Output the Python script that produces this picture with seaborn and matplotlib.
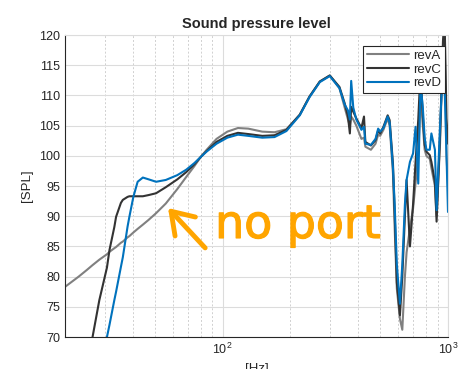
import numpy as np
import pandas as pd
import matplotlib
matplotlib.use("Agg")
import matplotlib.pyplot as plt
import matplotlib.patheffects as pe
import seaborn as sns
from matplotlib.ticker import LogLocator, NullFormatter, FixedLocator

# ---- data ----
freq = [20, 23, 25, 26.5, 28.4, 30.7, 31.5, 33.1, 33.7, 35.4, 36.1, 37.9, 38.6, 40.2,
        42, 44.3, 47, 50.7, 56, 63, 69, 75, 80, 85, 94, 105, 117, 130, 150, 170, 192,
        220, 243, 270, 299, 330, 348, 360, 367, 372, 380, 392, 413, 424, 430, 455, 477,
        490, 500, 517, 540, 551, 570, 580, 593, 612, 627, 644, 655, 678, 700, 718, 738,
        755, 773, 788, 802, 830, 844, 875, 890, 922, 950, 965, 985, 1000]

rev_a = [78.3, 80.0, 81.1, 81.9, 82.8, 83.7, 84.1, 84.7, 84.9, 85.6, 85.8, 86.5, 86.7, 87.3,
         87.9, 88.6, 89.4, 90.5, 92.1, 94.5, 96.5, 98.3, 99.8, 101.0, 102.8, 104.0, 104.6,
         104.5, 104.0, 103.9, 104.4, 106.8, 109.8, 112.3, 113.3, 111.2, 108.0, 106.0, 105.0,
         106.5, 106.0, 105.0, 102.8, 103.0, 101.5, 101.0, 102.0, 103.5, 103.3, 104.3, 106.2,
         105.0, 97.0, 88.0, 78.0, 73.0, 71.2, 80.0, 84.0, 88.0, 91.3, 95.5, 100.0, 110.0,
         105.0, 101.0, 100.0, 99.5, 98.0, 95.0, 90.0, 102.0, 118.0, 120.5, 100.0, 95.0]

rev_c = [50.0, 60.0, 65.5, 70.0, 76.1, 81.5, 84.4, 88.2, 89.9, 92.2, 92.7, 93.2, 93.3, 93.3,
         93.3, 93.3, 93.5, 93.8, 94.8, 96.1, 97.3, 98.6, 99.8, 100.8, 102.3, 103.3, 103.8,
         103.6, 103.3, 103.4, 104.3, 106.8, 109.8, 112.3, 113.3, 111.4, 108.7, 106.5, 103.7,
         108.1, 107.3, 106.2, 104.6, 106.5, 102.3, 101.7, 102.6, 104.2, 103.7, 104.8, 106.7,
         105.9, 98.7, 90.5, 79.0, 73.6, 80.0, 90.0, 96.0, 85.0, 92.0, 99.0, 106.0, 114.0,
         106.8, 101.8, 100.7, 100.1, 99.0, 95.7, 89.1, 103.4, 119.0, 123.0, 106.2, 102.0]

rev_d = [35.0, 45.0, 52.0, 57.0, 63.0, 70.0, 72.0, 76.1, 77.5, 81.6, 83.2, 88.3, 89.9, 93.2,
         95.7, 96.4, 96.1, 95.7, 96.0, 96.8, 97.7, 98.8, 99.8, 100.7, 102.0, 103.0, 103.5,
         103.3, 103.0, 103.1, 104.1, 106.7, 109.7, 112.2, 113.2, 111.2, 108.5, 107.5, 106.0,
         112.4, 108.0, 106.0, 104.3, 104.8, 102.0, 101.8, 102.8, 104.5, 104.0, 104.6, 106.5,
         105.5, 98.0, 92.0, 82.0, 75.5, 82.0, 92.0, 96.0, 99.0, 100.4, 104.8, 95.4, 112.0,
         108.0, 103.0, 101.0, 101.0, 103.7, 101.0, 91.0, 105.0, 115.0, 112.0, 100.0, 90.7]

series_names = ["revA", "revC", "revD"]
series_colors = {"revA": "#808080", "revC": "#333333", "revD": "#0072BD"}

df = pd.concat([
    pd.DataFrame({"Hz": freq, "SPL": vals, "rev": name})
    for name, vals in zip(series_names, [rev_a, rev_c, rev_d])
], ignore_index=True)

# ---- figure ----
sns.set_style("white")
plt.rcParams["font.family"] = ["Liberation Sans", "DejaVu Sans"]
txt = "#262626"

fig = plt.figure(figsize=(4.72, 3.69), dpi=100)
ax = fig.add_axes([65 / 472, 32 / 369, 383 / 472, 302 / 369])

sns.lineplot(data=df, x="Hz", y="SPL", hue="rev", palette=series_colors,
             hue_order=series_names, estimator=None, sort=False, lw=1.5, ax=ax)

ax.set_xscale("log")
ax.set_xlim(20, 1000)
ax.set_ylim(70, 120)
ax.set_yticks(np.arange(70, 121, 5))
ax.xaxis.set_major_locator(FixedLocator([100, 1000]))
ax.xaxis.set_minor_locator(LogLocator(base=10, subs=np.arange(2, 10)))
ax.xaxis.set_minor_formatter(NullFormatter())

# grid like matlab
ax.grid(True, which="major", color="#dcdcdc", lw=0.8, ls="-")
ax.grid(True, which="minor", axis="x", color="#d0d0d0", lw=0.7, ls=(0, (2, 2)))
ax.set_axisbelow(True)

for s in ["left", "bottom"]:
    ax.spines[s].set_color("#262626")
    ax.spines[s].set_linewidth(0.8)
for s in ["top", "right"]:
    ax.spines[s].set_color("#dcdcdc")
    ax.spines[s].set_linewidth(0.8)

ax.tick_params(axis="both", which="both", direction="in", colors=txt, labelsize=9)
ax.tick_params(axis="both", which="major", length=3)
ax.tick_params(axis="x", which="minor", length=2)
ax.tick_params(top=False, right=False)

ax.set_title("Sound pressure level", fontsize=10.5, fontweight="bold", color=txt, pad=5)
ax.set_xlabel("[Hz]", fontsize=9.5, color=txt)
ax.set_ylabel("[SPL]", fontsize=9.5, color=txt)
ax.xaxis.set_label_coords(0.5, -0.086)
ax.yaxis.set_label_coords(-0.084, 0.5)

leg = ax.legend(loc="upper right", bbox_to_anchor=(0.992, 0.964), borderaxespad=0,
                fontsize=9.5, handlelength=3.2, handletextpad=0.3, labelspacing=0.1,
                borderpad=0.3, fancybox=False, framealpha=1, edgecolor="#262626")
leg.get_frame().set_linewidth(0.8)
for t in leg.get_texts():
    t.set_color(txt)
for h in leg.get_lines():
    h.set_linewidth(1.5)

# hand-written note
orange = "#FFA500"
ax.text(0.392, 0.328, "no port", transform=ax.transAxes, ha="left", va="baseline",
        fontsize=33, color=orange, family="DejaVu Sans",
        path_effects=[pe.withStroke(linewidth=0.9, foreground=orange)])
ax.annotate("", xy=(0.269, 0.427), xytext=(0.366, 0.295),
            xycoords="axes fraction", textcoords="axes fraction",
            arrowprops=dict(arrowstyle="->,head_length=0.6,head_width=0.4",
                            lw=3.5, color=orange, mutation_scale=25,
                            shrinkA=0, shrinkB=0, capstyle="round"))

fig.savefig("out.png", dpi=100)
